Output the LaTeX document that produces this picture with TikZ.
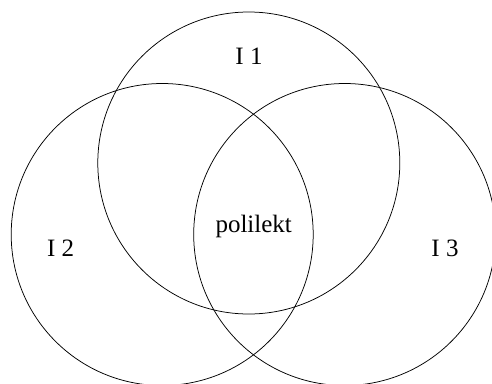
\documentclass[tikz,border=0pt]{standalone}
\usepackage{fontspec}
\setmainfont{Liberation Serif}
\begin{document}
\begin{tikzpicture}[x=1pt,y=-1pt,
  venn/.style={circle,draw,line width=0.75pt,minimum size=302pt,inner sep=0pt},
  lbl/.style={font=\fontsize{25}{30}\selectfont,anchor=base,inner sep=0pt}]
\useasboundingbox (0,0) rectangle (492,383);
\clip (0,0) rectangle (492,383);
\node[venn] (c1) at (248.8,163) {};
\node[venn] (c2) at (162.2,234.5) {};
\node[venn] (c3) at (344.7,234.5) {};
\node[lbl] (t1) at (249,64) {I 1};
\node[lbl] (t2) at (60.7,256.7) {I 2};
\node[lbl] (t3) at (445,256.7) {I 3};
\node[lbl] (tp) at (253.7,232.7) {polilekt};
\end{tikzpicture}
\end{document}
